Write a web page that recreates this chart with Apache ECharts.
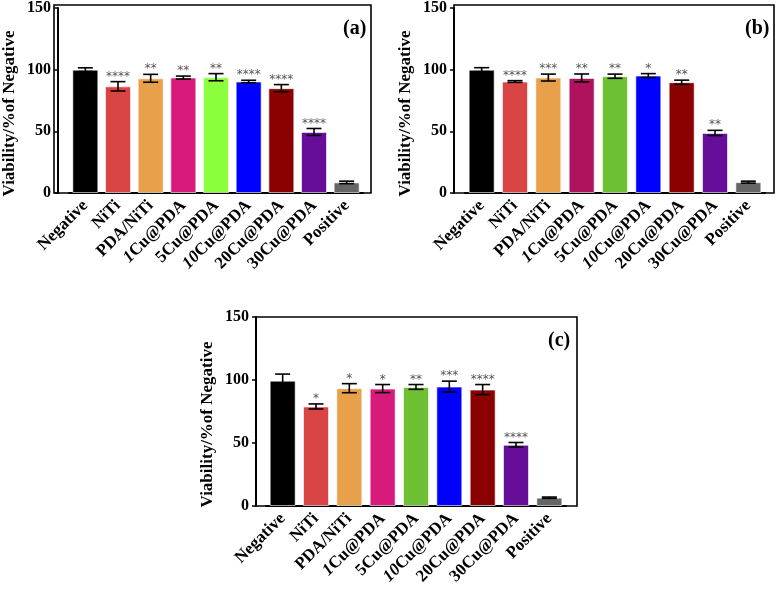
<!DOCTYPE html>
<html>
<head>
<meta charset="utf-8">
<script src="https://cdn.jsdelivr.net/npm/echarts@6/dist/echarts.min.js"></script>
<style>
    html, body { margin: 0; padding: 0; background: #fff; }
    #main { width: 777px; height: 591px; }
</style>
</head>
<body>
<div id="main"></div>
<script>
// categories shared by the three panels
var categories = ['Negative', 'NiTi', 'PDA/NiTi', '1Cu@PDA', '5Cu@PDA', '10Cu@PDA', '20Cu@PDA', '30Cu@PDA', 'Positive'];
var yTicks = [0, 50, 100, 150];

// panel (a)
var meanA = [100, 86.5, 93, 93.6, 93.9, 90.4, 85, 49.5, 8.6];
var errA = [1.5, 3.8, 3.2, 1.2, 2.9, 1.0, 2.9, 2.8, 1.0];
var starsA = ['', '****', '**', '**', '**', '****', '****', '****', ''];
var colorsA = ['#000000', '#d94545', '#e8a04a', '#d81b7a', '#8cff3c', '#0000ff', '#8b0000', '#660e99', '#666666'];

// panel (b)
var meanB = [100, 90.4, 93.6, 93.3, 94.7, 95.2, 89.8, 48.7, 8.8];
var errB = [1.6, 0.7, 2.8, 3.2, 1.7, 1.6, 1.7, 2.1, 0.8];
var starsB = ['', '****', '***', '**', '**', '*', '**', '**', ''];
var colorsB = ['#000000', '#d94545', '#e8a04a', '#b0135e', '#6cc032', '#0000ff', '#8b0000', '#660e99', '#666666'];

// panel (c)
var meanC = [99.5, 79, 93.5, 93.2, 94.5, 94.8, 92.4, 48.6, 6.6];
var errC = [5.2, 2.0, 3.6, 3.2, 1.9, 4.3, 4.0, 1.8, 0.5];
var starsC = ['', '*', '*', '*', '**', '***', '****', '****', ''];
var colorsC = ['#000000', '#d94545', '#e8a04a', '#d81b7a', '#6cc032', '#0000ff', '#8b0000', '#660e99', '#666666'];

var SERIF = "'Liberation Serif', 'Times New Roman', serif";

var chart = echarts.init(document.getElementById('main'));

// frame box and plotting area of each panel
var panels = [
    {frame: {left: 54, top: 5, width: 317, height: 188}, data: {left: 65, width: 298},
     mean: meanA, err: errA, stars: starsA, colors: colorsA, tag: '(a)', tagPos: {left: 338, top: 14}},
    {frame: {left: 454, top: 5, width: 320, height: 188}, data: {left: 465, width: 300},
     mean: meanB, err: errB, stars: starsB, colors: colorsB, tag: '(b)', tagPos: {left: 740, top: 14}},
    {frame: {left: 256, top: 317, width: 321, height: 189}, data: {left: 266, width: 300},
     mean: meanC, err: errC, stars: starsC, colors: colorsC, tag: '(c)', tagPos: {left: 543, top: 326}}
];

function labelFormatter(v) {
    if (v.indexOf('10Cu') === 0) return '{i|10}Cu@PDA';
    if (v.indexOf('1Cu') === 0) return '{i|1}Cu@PDA';
    return v;
}

function errorRenderer(panel) {
    return function (params, api) {
        var x = api.value(0), y = api.value(1), e = api.value(2);
        var top = api.coord([x, y + e]);
        var bot = api.coord([x, y - e]);
        var half = 7.5;
        var style = {stroke: '#000', lineWidth: 1.6};
        var children = [
            {type: 'line', shape: {x1: top[0], y1: top[1], x2: bot[0], y2: bot[1]}, style: style},
            {type: 'line', shape: {x1: top[0] - half, y1: top[1], x2: top[0] + half, y2: top[1]}, style: style},
            {type: 'line', shape: {x1: bot[0] - half, y1: bot[1], x2: bot[0] + half, y2: bot[1]}, style: style}
        ];
        var s = panel.stars[params.dataIndex];
        if (s) {
            children.push({
                type: 'text',
                style: {
                    text: s, x: top[0], y: top[1] - 5,
                    align: 'center', verticalAlign: 'middle',
                    fill: '#555', font: "12px 'DejaVu Sans', sans-serif"
                }
            });
        }
        return {type: 'group', children: children};
    };
}

var grid = [], xAxis = [], yAxis = [], series = [], title = [];

panels.forEach(function (p, k) {
    // data grid
    grid.push({left: p.data.left, top: p.frame.top, width: p.data.width, height: p.frame.height});
    xAxis.push({
        type: 'category', gridIndex: k, data: categories,
        axisLine: {lineStyle: {color: '#000', width: 2}},
        axisTick: {alignWithLabel: true, length: 4, lineStyle: {color: '#000', width: 1.5}},
        axisLabel: {
            interval: 0, rotate: 45, margin: 10, color: '#000',
            fontFamily: SERIF, fontWeight: 'bold', fontSize: 17,
            formatter: labelFormatter,
            rich: {i: {fontStyle: 'italic', fontWeight: 'bold', fontFamily: SERIF, fontSize: 17, color: '#000'}}
        }
    });
    yAxis.push({
        type: 'value', gridIndex: k, min: yTicks[0], max: yTicks[yTicks.length - 1], interval: 50,
        offset: p.data.left - p.frame.left,
        name: 'Viability/%of Negative', nameLocation: 'middle', nameGap: 40,
        nameTextStyle: {fontFamily: SERIF, fontWeight: 'bold', fontSize: 17, color: '#000', padding: [0, 26, 0, 0]},
        axisLine: {show: true, lineStyle: {color: '#000', width: 2}},
        axisTick: {show: true, length: 4, lineStyle: {color: '#000', width: 1.5}},
        axisLabel: {margin: 7, color: '#000', fontFamily: SERIF, fontWeight: 'bold', fontSize: 16},
        splitLine: {show: false}
    });
    series.push({
        type: 'bar', xAxisIndex: k, yAxisIndex: k, barWidth: 26,
        data: p.mean.map(function (v, i) {
            return {value: v, itemStyle: {color: p.colors[i]}};
        }),
        itemStyle: {borderColor: 'rgba(255,255,255,0.6)', borderWidth: 1}
    });
    series.push({
        type: 'custom', xAxisIndex: k, yAxisIndex: k, z: 5,
        renderItem: errorRenderer(p),
        encode: {x: 0, y: 1},
        data: p.mean.map(function (v, i) { return [i, v, p.err[i]]; })
    });
    title.push({
        text: p.tag, left: p.tagPos.left, top: p.tagPos.top,
        textStyle: {fontFamily: SERIF, fontWeight: 'bold', fontSize: 20, color: '#000'}
    });
});

// outer frame boxes
panels.forEach(function (p, k) {
    var gi = panels.length + k;
    grid.push({left: p.frame.left, top: p.frame.top, width: p.frame.width, height: p.frame.height,
        show: true, borderColor: '#000', borderWidth: 1.6, backgroundColor: 'transparent'});
    xAxis.push({type: 'value', gridIndex: gi, show: false});
    yAxis.push({type: 'value', gridIndex: gi, show: false});
});

var option = {
    animation: false,
    title: title,
    grid: grid,
    xAxis: xAxis,
    yAxis: yAxis,
    series: series
};

chart.setOption(option);
</script>
</body>
</html>
